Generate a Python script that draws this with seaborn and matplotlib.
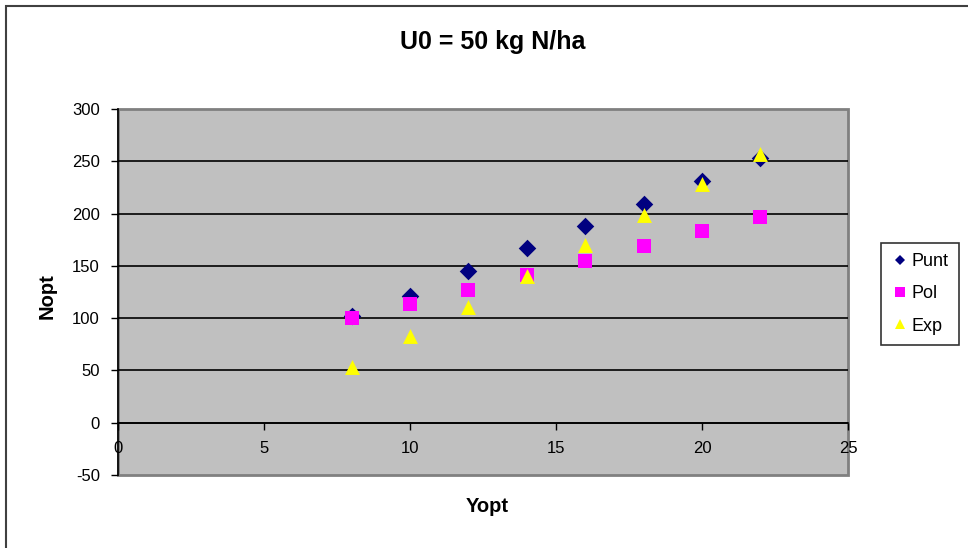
import matplotlib
matplotlib.use("Agg")
import matplotlib.pyplot as plt
from matplotlib.patches import Rectangle
from matplotlib.lines import Line2D
import seaborn as sns
import pandas as pd

# Optimal yield (Yopt) vs. optimal nitrogen rate (Nopt) for three fitted models
yopt = [8, 10, 12, 14, 16, 18, 20, 22]
punt = [102, 121, 145, 167, 188, 209, 231, 253]
pol = [100, 114, 127, 141, 155, 169, 183, 197]
exp_ = [53, 83, 111, 140, 170, 199, 228, 257]

series_names = ["Punt", "Pol", "Exp"]
series_colors = {"Punt": "#000080", "Pol": "#FF00FF", "Exp": "#FFFF00"}
series_markers = {"Punt": "D", "Pol": "s", "Exp": "^"}
series_sizes = {"Punt": 80, "Pol": 90, "Exp": 115}

y_ticks = [-50, 0, 50, 100, 150, 200, 250, 300]
x_ticks = [0, 5, 10, 15, 20, 25]

df = pd.DataFrame({
    "Yopt": yopt * 3,
    "Nopt": punt + pol + exp_,
    "serie": ["Punt"] * len(yopt) + ["Pol"] * len(yopt) + ["Exp"] * len(yopt),
})

sns.set_style("white")
plt.rcParams["font.family"] = ["Liberation Sans", "DejaVu Sans"]
plt.rcParams["text.color"] = "black"
plt.rcParams["axes.labelcolor"] = "black"
plt.rcParams["xtick.color"] = "black"
plt.rcParams["ytick.color"] = "black"

W, H = 968, 548
fig = plt.figure(figsize=(W / 100, H / 100), dpi=100)
ax = fig.add_axes([118 / W, 1 - 475 / H, (848 - 118) / W, (475 - 109) / H])
ax.set_facecolor("#C0C0C0")

# Horizontal gridlines
for v in y_ticks[1:-1]:
    ax.axhline(v, color="black", lw=1.2, zorder=1)

for name in series_names:
    sub = df[df["serie"] == name]
    sns.scatterplot(data=sub, x="Yopt", y="Nopt", ax=ax,
                    color=series_colors[name], marker=series_markers[name],
                    s=series_sizes[name], linewidth=0, zorder=3, legend=False)

ax.set_xlim(0, 25)
ax.set_ylim(-50, 300)
ax.set_xticks(x_ticks)
ax.set_yticks(y_ticks)
ax.set_xticklabels([str(t) for t in x_ticks])
ax.set_yticklabels([str(t) for t in y_ticks])

# Axes cross at the origin; plot-area frame in grey
for side in ["top", "right"]:
    ax.spines[side].set_visible(False)
ax.spines["bottom"].set_position(("data", 0))
ax.spines["bottom"].set_color("black")
ax.spines["bottom"].set_linewidth(1.2)
ax.spines["bottom"].set_zorder(2)
ax.spines["left"].set_color("black")
ax.spines["left"].set_linewidth(1.2)
ax.add_patch(Rectangle((0, 0), 1, 1, transform=ax.transAxes, fill=False,
                       edgecolor="#808080", lw=2, clip_on=False, zorder=0.5))

ax.tick_params(axis="both", which="major", direction="out", length=5,
               width=1, color="black", labelcolor="black", labelsize=12,
               pad=8, bottom=True, left=True)

ax.set_xlabel("Yopt", fontsize=14.5, fontweight="bold", color="black")
ax.set_ylabel("Nopt", fontsize=14.5, fontweight="bold", color="black")
ax.xaxis.set_label_coords((487 - 118) / (848 - 118), -(507 - 475) / (475 - 109))
ax.yaxis.set_label_coords(-(118 - 47) / (848 - 118), (475 - 296) / (475 - 109))
ax.xaxis.label.set_va("center")
ax.yaxis.label.set_va("center")

fig.text(493 / W, 1 - 42 / H, "U0 = 50 kg N/ha", ha="center", va="center",
         fontsize=18, fontweight="bold", color="black")

handles = [Line2D([], [], linestyle="none", marker=series_markers[n],
                  markerfacecolor=series_colors[n], markeredgewidth=0,
                  markersize=7 if n != "Punt" else 5.5, label=n)
           for n in series_names]
leg = fig.legend(handles=handles, loc="upper left",
                 bbox_to_anchor=(881 / W, 1 - 243 / H), frameon=True,
                 fancybox=False, fontsize=13, handlelength=1.0,
                 handletextpad=0.15, labelspacing=0.85, borderpad=0.55,
                 borderaxespad=0)
leg.get_frame().set_edgecolor("black")
leg.get_frame().set_linewidth(1.2)
for t in leg.get_texts():
    t.set_color("black")

# Outer chart border
fig.add_artist(Rectangle((5.5 / W, -0.05), 1.2, 1 - 6 / H + 0.05,
                         transform=fig.transFigure, fill=False,
                         edgecolor="#404040", lw=1.5))

fig.savefig("out.png", dpi=100)
